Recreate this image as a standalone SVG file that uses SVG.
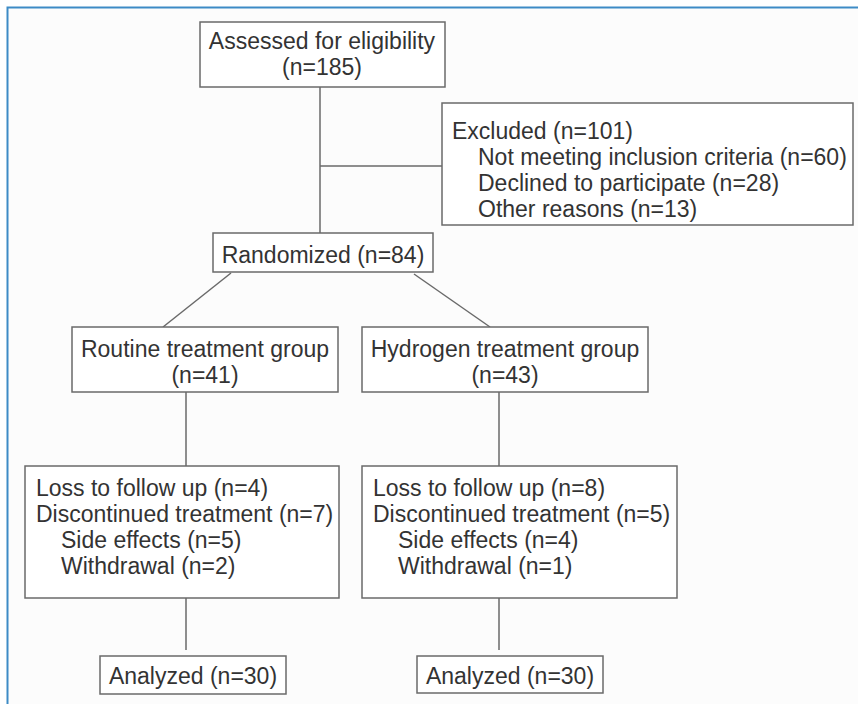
<svg xmlns="http://www.w3.org/2000/svg" width="858" height="704" viewBox="0 0 858 704">
<style>
.box{fill:#ffffff;stroke:#6a6a6a;stroke-width:1.5}
.t{font-family:"Liberation Sans",Arial,sans-serif;font-size:23px;fill:#333333}
.c{text-anchor:middle}
.ln{stroke:#6a6a6a;stroke-width:1.5;fill:none}
</style>
<rect x="0" y="0" width="858" height="704" fill="#ffffff"/>
<rect x="8" y="8" width="850" height="696" fill="#fcfcfc"/>
<path d="M7.5 704 V7.5 H858" stroke="#3d8bc6" stroke-width="2" fill="none"/>
<g id="connectors">
<line class="ln" x1="320" y1="87" x2="320" y2="233"/>
<line class="ln" x1="320" y1="166" x2="442" y2="166"/>
<line class="ln" x1="231" y1="273" x2="163" y2="327"/>
<line class="ln" x1="414" y1="274" x2="490" y2="327"/>
<line class="ln" x1="186" y1="392" x2="186" y2="466"/>
<line class="ln" x1="499" y1="392" x2="499" y2="466"/>
<line class="ln" x1="186" y1="598" x2="186" y2="650"/>
<line class="ln" x1="499" y1="598" x2="499" y2="650"/>
</g>
<g id="assessed">
<rect class="box" x="200" y="22" width="245" height="65"/>
<text class="t c" x="322" y="49">Assessed for eligibility</text>
<text class="t c" x="322" y="75">(n=185)</text>
</g>
<g id="excluded">
<rect class="box" x="442" y="103" width="411" height="122"/>
<text class="t" x="452" y="139">Excluded (n=101)</text>
<text class="t" x="478" y="165">Not meeting inclusion criteria (n=60)</text>
<text class="t" x="478" y="191">Declined to participate (n=28)</text>
<text class="t" x="478" y="217">Other reasons (n=13)</text>
</g>
<g id="randomized">
<rect class="box" x="213" y="233" width="220" height="39"/>
<text class="t c" x="323" y="263">Randomized (n=84)</text>
</g>
<g id="routine">
<rect class="box" x="72" y="327" width="266" height="65"/>
<text class="t c" x="205" y="357">Routine treatment group</text>
<text class="t c" x="205" y="383">(n=41)</text>
</g>
<g id="hydrogen">
<rect class="box" x="362" y="327" width="286" height="65"/>
<text class="t c" x="505" y="357">Hydrogen treatment group</text>
<text class="t c" x="505" y="383">(n=43)</text>
</g>
<g id="loss-routine">
<rect class="box" x="25" y="466" width="314" height="132"/>
<text class="t" x="36" y="496">Loss to follow up (n=4)</text>
<text class="t" x="36" y="522">Discontinued treatment (n=7)</text>
<text class="t" x="61" y="548">Side effects (n=5)</text>
<text class="t" x="61" y="574">Withdrawal (n=2)</text>
</g>
<g id="loss-hydrogen">
<rect class="box" x="362" y="466" width="315" height="132"/>
<text class="t" x="373" y="496">Loss to follow up (n=8)</text>
<text class="t" x="373" y="522">Discontinued treatment (n=5)</text>
<text class="t" x="398" y="548">Side effects (n=4)</text>
<text class="t" x="398" y="574">Withdrawal (n=1)</text>
</g>
<g id="analyzed-routine">
<rect class="box" x="100" y="656" width="186" height="38"/>
<text class="t c" x="193" y="684">Analyzed (n=30)</text>
</g>
<g id="analyzed-hydrogen">
<rect class="box" x="417" y="656" width="186" height="37"/>
<text class="t c" x="510" y="684">Analyzed (n=30)</text>
</g>
</svg>
